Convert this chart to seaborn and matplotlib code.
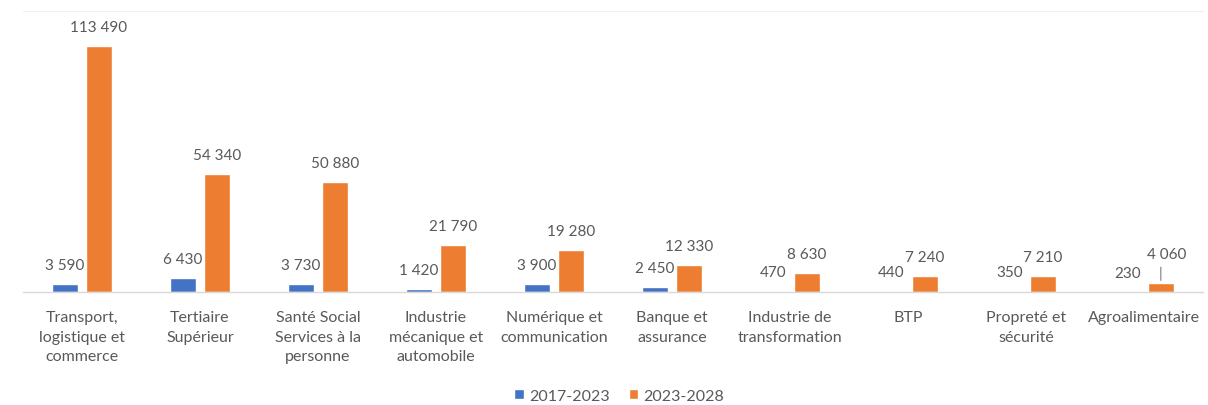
import matplotlib
matplotlib.use("Agg")
import matplotlib.pyplot as plt
import pandas as pd
import seaborn as sns

# Secteurs et créations d'emplois par période
categories = [
    "Transport,\nlogistique et\ncommerce",
    "Tertiaire\nSupérieur",
    "Santé Social\nServices à la\npersonne",
    "Industrie\nmécanique et\nautomobile",
    "Numérique et\ncommunication",
    "Banque et\nassurance",
    "Industrie de\ntransformation",
    "BTP",
    "Propreté et\nsécurité",
    "Agroalimentaire",
]
periods = ["2017-2023", "2023-2028"]
jobs_2017_2023 = [3590, 6430, 3730, 1420, 3900, 2450, 470, 440, 350, 230]
jobs_2023_2028 = [113490, 54340, 50880, 21790, 19280, 12330, 8630, 7240, 7210, 4060]

BLUE = "#4472C4"
ORANGE = "#ED7D31"
TEXT = "#595959"

df = pd.DataFrame({
    "secteur": categories * 2,
    "periode": [periods[0]] * len(categories) + [periods[1]] * len(categories),
    "emplois": jobs_2017_2023 + jobs_2023_2028,
})

sns.set_theme(style="white")
plt.rcParams["font.family"] = ["Lato", "DejaVu Sans"]

W, H = 1208, 406
fig = plt.figure(figsize=(W / 100, H / 100), dpi=100)
ax = fig.add_axes([23 / W, 1 - 293 / H, 1180 / W, 281 / H])

sns.barplot(data=df, x="secteur", y="emplois", hue="periode",
            palette=[BLUE, ORANGE], width=0.57, gap=0.23,
            saturation=1, ax=ax)

ax.set_ylim(0, 129600)
ax.set_xlim(-0.5, len(categories) - 0.5)
ax.set_xlabel("")
ax.set_ylabel("")
ax.set_yticks([])
ax.tick_params(axis="x", length=0, pad=13, labelsize=11.5, labelcolor=TEXT)
for lbl in ax.get_xticklabels():
    lbl.set_linespacing(1.5)

for side in ("left", "right"):
    ax.spines[side].set_visible(False)
ax.spines["bottom"].set_color("#d9d9d9")
ax.spines["bottom"].set_linewidth(1.0)
ax.spines["top"].set_color("#f0f0f0")
ax.spines["top"].set_linewidth(0.8)

px = 72 / 100  # points per pixel

def fmt(v):
    return f"{v:,}".replace(",", " ")

last = len(categories) - 1
for container, values in zip(ax.containers, [jobs_2017_2023, jobs_2023_2028]):
    for i, (bar, v) in enumerate(zip(container, values)):
        x = bar.get_x() + bar.get_width() / 2
        h = bar.get_height()
        if container is ax.containers[1] and i == last:
            # small bar: label lifted with a leader line
            ax.annotate(fmt(v), xy=(x, h), xytext=(6 * px, 29 * px),
                        textcoords="offset points", ha="center", va="center",
                        fontsize=11, color=TEXT)
            ax.annotate("", xy=(x, h), xytext=(0, 16 * px),
                        textcoords="offset points",
                        arrowprops=dict(arrowstyle="-", color="#7f7f7f",
                                        lw=0.8, shrinkA=0, shrinkB=2))
        else:
            ax.annotate(fmt(v), xy=(x, h), xytext=(0, 19 * px),
                        textcoords="offset points", ha="center", va="center",
                        fontsize=11, color=TEXT)

handles, labels = ax.get_legend_handles_labels()
ax.get_legend().remove()
fig.legend(handles, labels, loc="center", bbox_to_anchor=(619 / W, 1 - 397 / H),
           ncol=2, frameon=False, handlelength=0.6, handleheight=0.6,
           handletextpad=0.3, columnspacing=1.2, fontsize=11.5, labelcolor=TEXT)

fig.savefig("out.png", dpi=100, facecolor="white")
